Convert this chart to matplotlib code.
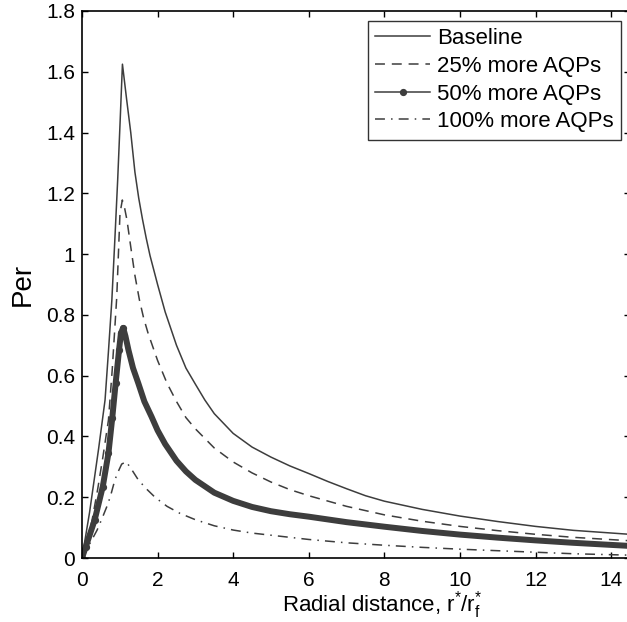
import matplotlib
matplotlib.use("Agg")
import matplotlib.pyplot as plt
from matplotlib.lines import Line2D
from matplotlib.ticker import FixedLocator, FuncFormatter

# ---------------- data ----------------
base_x = [0, 0.20, 0.44, 0.61, 0.70, 0.79, 0.87, 0.944, 1.01, 1.07,
          1.18, 1.29, 1.40, 1.50, 1.60, 1.70, 1.80, 2.0, 2.2, 2.5,
          2.75, 3.0, 3.25, 3.5, 4.0, 4.5, 5.0, 5.5, 6.0, 6.5,
          7.0, 7.5, 8.0, 9.0, 10.0, 11.0, 12.0, 13.0, 14.6]
base_y = [0, 0.15, 0.36, 0.52, 0.68, 0.849, 1.05, 1.244, 1.44, 1.625,
          1.51, 1.40, 1.27, 1.185, 1.115, 1.052, 0.995, 0.90, 0.81, 0.70,
          0.625, 0.572, 0.52, 0.475, 0.41, 0.365, 0.332, 0.303, 0.278, 0.252,
          0.228, 0.205, 0.187, 0.16, 0.138, 0.12, 0.104, 0.091, 0.077]

aqp25_x = [0, 0.26, 0.42, 0.55, 0.70, 0.80, 0.92, 1.005, 1.067, 1.13,
           1.19, 1.29, 1.40, 1.52, 1.63, 1.75, 2.0, 2.25, 2.5, 2.75,
           3.0, 3.5, 4.0, 4.5, 5.0, 5.5, 6.0, 7.0, 8.0, 9.0,
           10.0, 11.0, 12.0, 13.0, 14.6]
aqp25_y = [0, 0.12, 0.23, 0.33, 0.454, 0.62, 0.86, 1.134, 1.178, 1.15,
           1.112, 1.024, 0.93, 0.849, 0.79, 0.739, 0.65, 0.575, 0.515, 0.462,
           0.425, 0.362, 0.316, 0.28, 0.25, 0.225, 0.205, 0.17, 0.142, 0.121,
           0.104, 0.09, 0.078, 0.068, 0.056]

aqp50_x = [0, 0.10, 0.335, 0.55, 0.70, 0.80, 0.89, 0.98, 1.03, 1.09,
           1.15, 1.23, 1.35, 1.49, 1.65, 1.84, 2.0, 2.2, 2.5, 2.75,
           3.0, 3.5, 4.0, 4.5, 5.0, 5.5, 6.0, 7.0, 8.0, 9.0,
           10.0, 11.0, 12.0, 13.0, 14.6]
aqp50_y = [0, 0.037, 0.125, 0.235, 0.345, 0.46, 0.575, 0.684, 0.74, 0.757,
           0.73, 0.684, 0.625, 0.575, 0.515, 0.465, 0.42, 0.375, 0.32, 0.285,
           0.257, 0.215, 0.188, 0.168, 0.154, 0.144, 0.136, 0.118, 0.103, 0.089,
           0.077, 0.067, 0.058, 0.05, 0.039]

aqp100_x = [0, 0.21, 0.40, 0.53, 0.66, 0.75, 0.87, 0.96, 1.05, 1.17,
            1.32, 1.49, 1.7, 1.94, 2.25, 2.59, 3.0, 3.5, 4.0, 4.5,
            5.0, 6.0, 7.0, 8.0, 9.0, 10.0, 11.0, 12.0, 13.0, 14.6]
aqp100_y = [0, 0.048, 0.092, 0.13, 0.17, 0.202, 0.257, 0.285, 0.309, 0.317,
            0.29, 0.257, 0.228, 0.199, 0.17, 0.147, 0.126, 0.106, 0.092, 0.082,
            0.075, 0.061, 0.05, 0.042, 0.035, 0.029, 0.024, 0.019, 0.014, 0.009]

labels = ["Baseline", "25% more AQPs", "50% more AQPs", "100% more AQPs"]
x_ticks = [0, 2, 4, 6, 8, 10, 12, 14]
y_ticks = [0, 0.2, 0.4, 0.6, 0.8, 1.0, 1.2, 1.4, 1.6, 1.8]

# ---------------- style ----------------
plt.rcParams['font.family'] = ['Liberation Sans', 'DejaVu Sans']
plt.rcParams['mathtext.fontset'] = 'custom'
plt.rcParams['mathtext.rm'] = 'Liberation Sans'
plt.rcParams['mathtext.it'] = 'Liberation Sans'
plt.rcParams['mathtext.default'] = 'regular'

col = '#3d3d3d'
W, H = 627, 622
fig = plt.figure(figsize=(W / 100, H / 100), dpi=100)
ax = fig.add_axes([82 / W, (H - 558) / H, (630 - 82) / W, (558 - 11) / H])

dash = (0, (6.5, 4.5))
dashdot = (0, (6.5, 4, 1, 4))

ax.plot(base_x, base_y, color=col, lw=1.1)
ax.plot(aqp25_x, aqp25_y, color=col, lw=1.1, linestyle=dash)
# thick band formed by the dense markers in the original
ax.plot(aqp50_x, aqp50_y, color=col, lw=4.3, solid_capstyle='round',
        solid_joinstyle='round')
ax.plot(aqp50_x[:10], aqp50_y[:10], color=col, lw=1.1, marker='o', markersize=4.2,
        markerfacecolor=col, markeredgecolor=col)
ax.plot(aqp100_x, aqp100_y, color=col, lw=1.1, linestyle=dashdot)

ax.set_xlim(0, 14.5)
ax.set_ylim(0, 1.8)
ax.xaxis.set_major_locator(FixedLocator(x_ticks))
ax.yaxis.set_major_locator(FixedLocator(y_ticks))
ax.yaxis.set_major_formatter(FuncFormatter(lambda v, p: ('%g' % round(v, 2))))
ax.xaxis.set_major_formatter(FuncFormatter(lambda v, p: ('%g' % v)))

for s in ax.spines.values():
    s.set_linewidth(1.2)
    s.set_color('black')
ax.tick_params(direction='in', length=4, width=1.0, top=True, right=True,
               labelsize=15, colors='black')
ax.tick_params(axis='x', pad=9.5)
ax.tick_params(axis='y', pad=5)

ax.set_xlabel('Radial distance, r$^{*}$/r$_{f}^{*}$', fontsize=16)
ax.xaxis.set_label_coords(0.547, -0.057)
ax.set_ylabel('Per', fontsize=20, va='center')
ax.yaxis.set_label_coords(-0.109, 0.5)

handles = [
    Line2D([], [], color=col, lw=1.1),
    Line2D([], [], color=col, lw=1.1, linestyle=dash),
    Line2D([], [], color=col, lw=1.1, marker='o', markersize=4.2),
    Line2D([], [], color=col, lw=1.1, linestyle=dashdot),
]
leg = ax.legend(handles, labels, loc='upper right', bbox_to_anchor=(0.984, 0.982),
                borderaxespad=0, fontsize=16, frameon=True, fancybox=False,
                edgecolor='black', handlelength=2.48, handletextpad=0.32,
                labelspacing=0.30, borderpad=0.33, numpoints=1)
leg.get_frame().set_linewidth(1.0)

fig.savefig('out.png', dpi=100)
